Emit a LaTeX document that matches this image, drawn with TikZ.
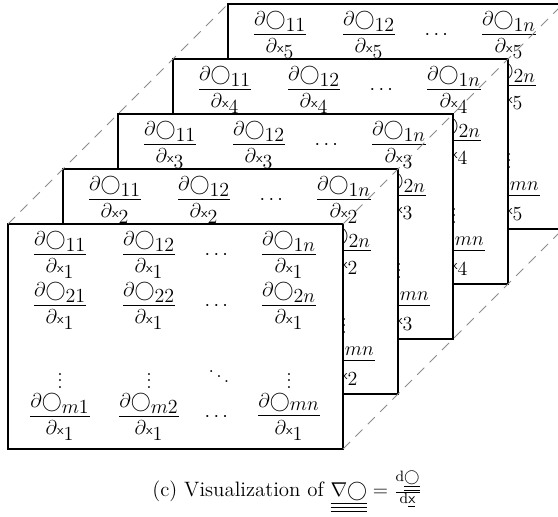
\documentclass[tikz,border=0pt]{standalone}
\usepackage{amsmath}
\tikzset{
  boxstyle/.style={draw=black, line width=0.7pt, fill=white, minimum width=201pt, minimum height=135pt, inner sep=0pt, outer sep=0pt},
  entry/.style={inner sep=0pt, font=\fontsize{12}{14}\selectfont},
  guide/.style={draw=black!45, line width=0.6pt, dash pattern=on 6pt off 4.5pt},
  captionstyle/.style={inner sep=0pt, font=\fontsize{12.5}{14}\selectfont}
}
\newcommand{\pdent}[2]{$\displaystyle\frac{\partial\bigcirc_{\textstyle #1}}{\partial{\scriptstyle\mathsf{x}}_{\textstyle #2}}$}
\begin{document}
\begin{tikzpicture}[x=0.6pt,y=-0.6pt]
\useasboundingbox (0,0) rectangle (558,517);
\clip (0,0) rectangle (558,517);
\foreach \k in {5,4,3,2,1}{
  \pgfmathsetmacro{\o}{55*(\k-1)}
  \node[boxstyle] (b\k) at (175.5+\o, 336.5-\o) {};
  % row 1
  \node[entry] (e\k-1-1) at (8+\o+52, 224-\o+31) {\pdent{11}{\k}};
  \node[entry] (e\k-1-2) at (8+\o+141, 224-\o+31) {\pdent{12}{\k}};
  \node[entry] (e\k-1-3) at (8+\o+210, 224-\o+31) {$\cdots$};
  \node[entry] (e\k-1-4) at (8+\o+281, 224-\o+31) {\pdent{1n}{\k}};
  % row 2
  \node[entry] (e\k-2-1) at (8+\o+52, 224-\o+82) {\pdent{21}{\k}};
  \node[entry] (e\k-2-2) at (8+\o+141, 224-\o+82) {\pdent{22}{\k}};
  \node[entry] (e\k-2-3) at (8+\o+210, 224-\o+82) {$\cdots$};
  \node[entry] (e\k-2-4) at (8+\o+281, 224-\o+82) {\pdent{2n}{\k}};
  % row 3
  \node[entry] (e\k-3-1) at (8+\o+52, 224-\o+152) {$\vdots$};
  \node[entry] (e\k-3-2) at (8+\o+141, 224-\o+152) {$\vdots$};
  \node[entry] (e\k-3-3) at (8+\o+211, 224-\o+148) {$\ddots$};
  \node[entry] (e\k-3-4) at (8+\o+281, 224-\o+152) {$\vdots$};
  % row 4
  \node[entry] (e\k-4-1) at (8+\o+52, 224-\o+193) {\pdent{m1}{\k}};
  \node[entry] (e\k-4-2) at (8+\o+141, 224-\o+193) {\pdent{m2}{\k}};
  \node[entry] (e\k-4-3) at (8+\o+210, 224-\o+193) {$\cdots$};
  \node[entry] (e\k-4-4) at (8+\o+281, 224-\o+193) {\pdent{mn}{\k}};
}
\draw[guide] (b1.north west) -- (b5.north west);
\draw[guide] (b1.north east) -- (b5.north east);
\draw[guide] (b1.south east) -- (b5.south east);
\node[captionstyle] (cap) at (287,492) {(c) Visualization of $\underline{\underline{\underline{\nabla\bigcirc}}} = \frac{\mathrm{d}\underline{\underline{\bigcirc}}}{\mathrm{d}\underline{\mathsf{x}}}$};
\end{tikzpicture}
\end{document}
